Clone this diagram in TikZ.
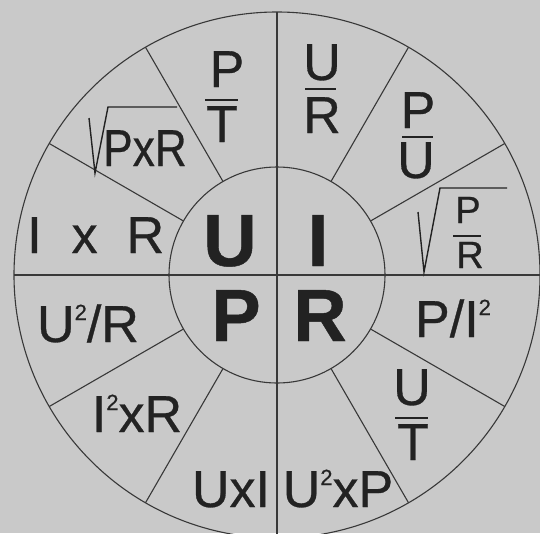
\documentclass[tikz,border=0pt]{standalone}
\usepackage{fontspec}
\setmainfont{Liberation Sans}[FakeBold=0.6]
\definecolor{paper}{HTML}{C9C9C9}
\definecolor{ink}{HTML}{222222}
\newcommand{\sq}{\raisebox{22pt}{\fontsize{22}{22}\selectfont 2}}
\begin{document}
\begin{tikzpicture}[x=1pt,y=-1pt,
  lbl/.style={inner sep=0pt, anchor=base, text=ink, font=\fontsize{52}{52}\selectfont},
  smalllbl/.style={lbl, font=\fontsize{38}{38}\selectfont},
  ctr/.style={inner sep=0pt, anchor=base, text=ink, font=\bfseries\fontsize{74}{74}\selectfont},
  wire/.style={draw=ink!90, line width=1.1pt},
  fbar/.style={draw=ink, line width=2.8pt},
  rad/.style={draw=ink, line width=1.4pt, line join=miter}]
\useasboundingbox (0,0) rectangle (540,533);
\fill[paper] (0,0) rectangle (540,533);
\clip (0,0) rectangle (540,533);
\coordinate (C) at (277,275);
\draw[wire] (C) circle[radius=263];
\draw[wire] (C) circle[radius=108];
\foreach \a in {30,60,120,150,210,240,300,330}
  \draw[wire] ([shift={(\a:108)}]C) -- ([shift={(\a:263)}]C);
\draw[wire] ([shift={(0:263)}]C) -- ([shift={(180:263)}]C);
\draw[wire] ([shift={(90:263)}]C) -- ([shift={(270:263)}]C);
% centre
\node[ctr] (cu) at (230,266) {U};
\node[ctr] (ci) at (318,266) {I};
\node[ctr] (cp) at (236,341) {P};
\node[ctr] (cr) at (320,341) {R};
% P/T
\node[lbl] (ptn) at (227,87) {P};
\draw[fbar] (205,100) -- (238,100);
\node[lbl] (ptd) at (222,142) {T};
% U/R
\node[lbl] (urn) at (322,80) {U};
\draw[fbar] (305,89) -- (336,89);
\node[lbl] (urd) at (322,133) {R};
% P/U
\node[lbl] (pun) at (418,128) {P};
\draw[fbar] (402,137) -- (433,137);
\node[lbl] (pud) at (416,178) {U};
% sqrt P/R
\draw[rad] (418,212) -- (424,272) -- (440,188) -- (507,188);
\node[smalllbl] (prn) at (468,223) {P};
\draw[fbar, line width=2.2pt] (453,236) -- (481,236);
\node[smalllbl] (prd) at (470,268) {R};
% P/I2
\node[lbl] (pi) at (453,337) {P/I\sq};
% U/T
\node[lbl] (utn) at (412,405) {U};
\draw[fbar] (395,418) -- (428,418);
\node[lbl] (utd) at (413,460) {T};
% bottom
\node[lbl] (uxp) at (338,507) {U\sq xP};
\node[lbl] (uxi) at (231,507) {UxI};
% left
\node[lbl] (ixr2) at (137,432) {I\sq xR};
\node[lbl] (u2r) at (88,342) {U\sq/R};
\node[lbl, anchor=base west] (ixr) at (27,253) {I\hspace{30pt}x\hspace{29pt}R};
% sqrt PxR
\draw[rad] (89,118) -- (95,173) -- (108,107) -- (177,107);
\node[lbl] (pxr) at (145,166) {\scalebox{0.85}[1]{PxR}};
\end{tikzpicture}
\end{document}
